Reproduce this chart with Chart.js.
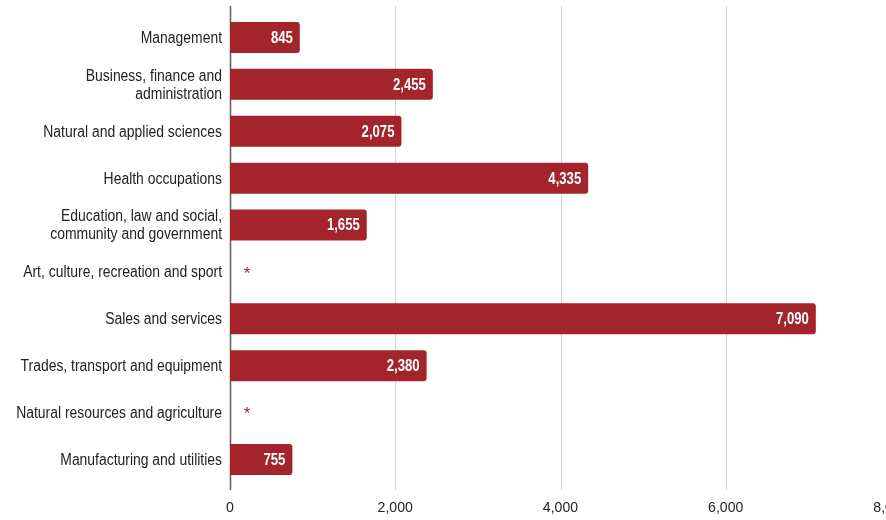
<!DOCTYPE html>
<html>
<head>
<meta charset="utf-8">
<script src="https://cdn.jsdelivr.net/npm/chart.js@4.4.0/dist/chart.umd.min.js"></script>
<style>
  html, body { margin: 0; padding: 0; background: #fff; overflow: hidden; }
  #wrap { width: 940px; height: 520px; }
</style>
</head>
<body>
<div id="wrap"><canvas id="myChart" width="940" height="520"></canvas></div>
<script>
const kategooriad = [
    'Management',
    ['Business, finance and', 'administration'],
    'Natural and applied sciences',
    'Health occupations',
    ['Education, law and social,', 'community and government'],
    'Art, culture, recreation and sport',
    'Sales and services',
    'Trades, transport and equipment',
    'Natural resources and agriculture',
    'Manufacturing and utilities'
];
// null = suppressed value, shown as *
const vaartused = [845, 2455, 2075, 4335, 1655, null, 7090, 2380, null, 755];
const xTicks = [0, 2000, 4000, 6000, 8000];

const punane = '#a3252b';
const font = "'Liberation Sans', Arial, sans-serif";

// narrow text: no condensed font here, so squeeze the normal one
function tekst(ctx, s, x, y, align, sx) {
    ctx.save();
    ctx.translate(x, y);
    ctx.scale(sx, 1);
    ctx.textAlign = align;
    ctx.fillText(s, 0, 0);
    ctx.restore();
}

const sildid = {
    id: 'sildid',
    // grid lines, a bit longer than the plot area
    beforeDatasetsDraw(chart) {
        const ctx = chart.ctx;
        const xs = chart.scales.x;
        const a = chart.chartArea;
        ctx.save();
        xTicks.forEach(function (t) {
            const px = Math.round(xs.getPixelForValue(t)) + 0.5;
            ctx.strokeStyle = t === 0 ? '#666' : '#d4d4d4';
            ctx.lineWidth = t === 0 ? 1.6 : 1;
            ctx.beginPath();
            ctx.moveTo(px, a.top - 8);
            ctx.lineTo(px, a.bottom + 7);
            ctx.stroke();
        });
        ctx.restore();
    },
    afterDatasetsDraw(chart) {
        const ctx = chart.ctx;
        const meta = chart.getDatasetMeta(0);
        const xs = chart.scales.x;
        const ys = chart.scales.y;
        const x0 = xs.getPixelForValue(0);
        ctx.save();
        ctx.textBaseline = 'middle';

        // values on bars / asterisks
        meta.data.forEach(function (bar, i) {
            const v = vaartused[i];
            if (v === null) {
                ctx.fillStyle = punane;
                ctx.font = '17px ' + font;
                tekst(ctx, '*', x0 + 17, ys.getPixelForValue(i) + 2, 'center', 1);
            } else {
                ctx.fillStyle = '#fff';
                ctx.font = 'bold 16px ' + font;
                tekst(ctx, v.toLocaleString('en-US'), bar.x - 7, bar.y + 1, 'right', 0.82);
            }
        });

        // category labels
        ctx.fillStyle = '#222';
        ctx.font = '16px ' + font;
        kategooriad.forEach(function (lab, i) {
            const yc = ys.getPixelForValue(i) + 1;
            const read = Array.isArray(lab) ? lab : [lab];
            const lh = 18;
            read.forEach(function (r, j) {
                const y = yc + (j - (read.length - 1) / 2) * lh;
                tekst(ctx, r, 222, y, 'right', 0.87);
            });
        });

        // x tick labels
        ctx.font = '15px ' + font;
        xTicks.forEach(function (t) {
            tekst(ctx, t.toLocaleString('en-US'), xs.getPixelForValue(t), 508, 'center', 0.94);
        });
        ctx.restore();
    }
};

const ctx = document.getElementById('myChart').getContext('2d');
const chart = new Chart(ctx, {
    type: 'bar',
    data: {
        labels: kategooriad,
        datasets: [{
            data: vaartused,
            backgroundColor: punane,
            borderRadius: 3,
            borderSkipped: 'start',
            barPercentage: 0.66,
            categoryPercentage: 1
        }]
    },
    options: {
        indexAxis: 'y',
        responsive: false,
        animation: false,
        layout: { padding: { top: 14, right: 49, left: 0, bottom: 0 } },
        plugins: {
            legend: { display: false },
            tooltip: { enabled: false }
        },
        scales: {
            x: {
                min: 0,
                max: 8000,
                afterBuildTicks(scale) {
                    scale.ticks = xTicks.map(v => ({ value: v }));
                },
                afterFit(scale) { scale.height = 37; },
                grid: { display: false },
                border: { display: false },
                ticks: { display: false }
            },
            y: {
                afterFit(scale) { scale.width = 230; },
                grid: { display: false },
                border: { display: false },
                ticks: { display: false }
            }
        }
    },
    plugins: [sildid]
});
</script>
</body>
</html>
